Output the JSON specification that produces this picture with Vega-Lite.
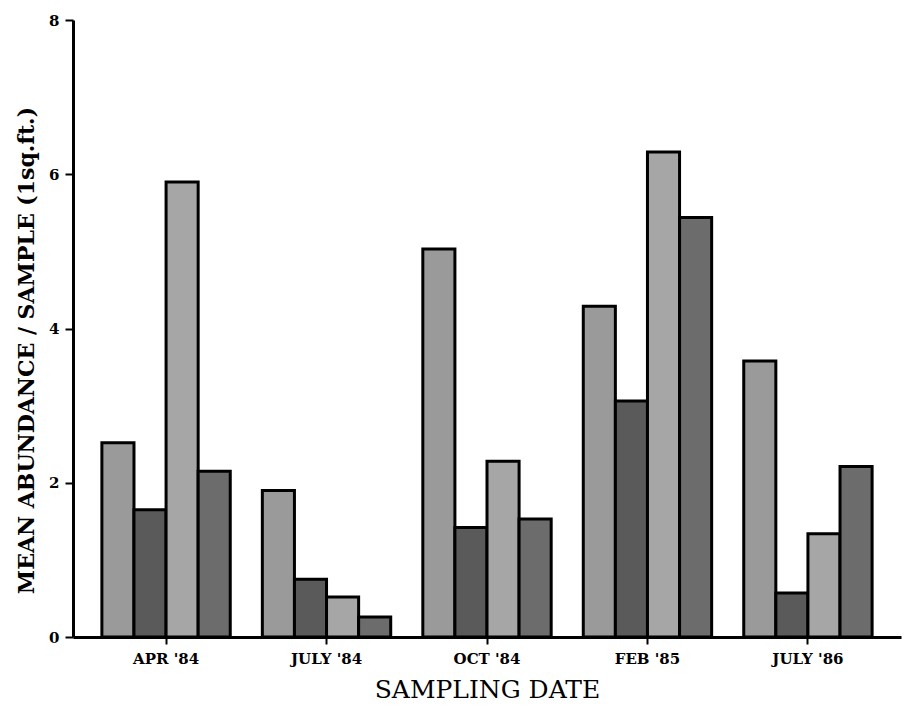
{
  "$schema": "https://vega.github.io/schema/vega-lite/v6.json",
  "width": 828,
  "height": 617,
  "autosize": "none",
  "padding": {"left": 73, "top": 20, "right": 4, "bottom": 72},
  "background": "white",
  "config": {
    "view": {"stroke": null},
    "font": "DejaVu Serif",
    "axis": {"domainColor": "black", "tickColor": "black", "labelColor": "black", "titleColor": "black", "grid": false}
  },
  "data": {
    "values": [
      {"date": "APR '84", "series": "A", "value": 2.52},
      {"date": "APR '84", "series": "B", "value": 1.65},
      {"date": "APR '84", "series": "C", "value": 5.9},
      {"date": "APR '84", "series": "D", "value": 2.15},
      {"date": "JULY '84", "series": "A", "value": 1.9},
      {"date": "JULY '84", "series": "B", "value": 0.75},
      {"date": "JULY '84", "series": "C", "value": 0.52},
      {"date": "JULY '84", "series": "D", "value": 0.26},
      {"date": "OCT '84", "series": "A", "value": 5.03},
      {"date": "OCT '84", "series": "B", "value": 1.42},
      {"date": "OCT '84", "series": "C", "value": 2.28},
      {"date": "OCT '84", "series": "D", "value": 1.53},
      {"date": "FEB '85", "series": "A", "value": 4.29},
      {"date": "FEB '85", "series": "B", "value": 3.06},
      {"date": "FEB '85", "series": "C", "value": 6.29},
      {"date": "FEB '85", "series": "D", "value": 5.44},
      {"date": "JULY '86", "series": "A", "value": 3.58},
      {"date": "JULY '86", "series": "B", "value": 0.57},
      {"date": "JULY '86", "series": "C", "value": 1.34},
      {"date": "JULY '86", "series": "D", "value": 2.21}
    ]
  },
  "mark": {"type": "bar", "stroke": "black", "strokeWidth": 3},
  "encoding": {
    "x": {
      "field": "date", "type": "nominal", "sort": null,
      "scale": {"paddingInner": 0.2, "paddingOuter": 0.18},
      "axis": {
        "title": "SAMPLING DATE", "titleFontSize": 25, "titleFontWeight": "normal", "titlePadding": 11,
        "labelAngle": 0, "labelFontSize": 15, "labelFontWeight": "bold", "labelPadding": 7,
        "tickSize": 7, "tickWidth": 2, "domainWidth": 3
      }
    },
    "xOffset": {"field": "series", "type": "nominal", "scale": {"paddingInner": 0, "paddingOuter": 0}},
    "y": {
      "field": "value", "type": "quantitative",
      "scale": {"domain": [0, 8], "nice": false},
      "axis": {
        "title": "MEAN ABUNDANCE / SAMPLE (1sq.ft.)", "titleFontSize": 22, "titleFontWeight": "bold", "titlePadding": 10,
        "titleY": 330,
        "values": [0, 2, 4, 6, 8], "labelFontSize": 15, "labelFontWeight": "bold", "labelPadding": 6,
        "tickSize": 8, "tickWidth": 2, "domainWidth": 3
      }
    },
    "fill": {
      "field": "series", "type": "nominal", "legend": null,
      "scale": {"domain": ["A", "B", "C", "D"], "range": ["#9a9a9a", "#5a5a5a", "#a6a6a6", "#6c6c6c"]}
    }
  }
}
